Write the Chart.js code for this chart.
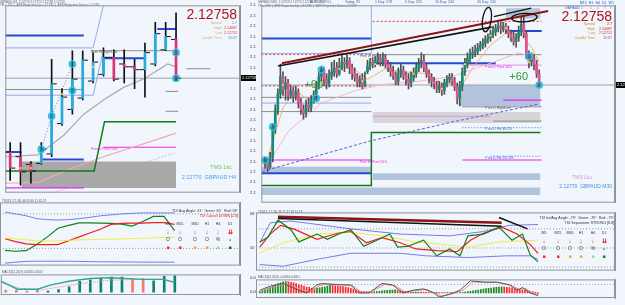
<!DOCTYPE html>
<html>
<head>
<meta charset="utf-8">
<title>GBPAUD H4 / M30</title>
<script src="https://cdn.jsdelivr.net/npm/chart.js@4.4.1/dist/chart.umd.min.js"></script>
<style>
  html, body { margin: 0; padding: 0; background: #f0f6fc; }
  #wrap { position: relative; width: 625px; height: 305px; overflow: hidden; background: #f0f6fc; }
  #wrap canvas { position: absolute; }
  #paneR { position: absolute; left: 256px; top: 0; width: 369px; height: 305px; overflow: hidden; }
</style>
</head>
<body>
<div id="wrap">
  <canvas id="priceL" width="256" height="198" style="left:0;top:0"></canvas>
  <canvas id="tdiL" width="256" height="72" style="left:0;top:198px"></canvas>
  <canvas id="histL" width="256" height="35" style="left:0;top:270px"></canvas>
  <div id="paneR">
    <canvas id="priceR" width="390" height="208" style="left:0;top:0"></canvas>
    <canvas id="tdiR" width="390" height="67" style="left:0;top:208px"></canvas>
    <canvas id="histR" width="390" height="30" style="left:0;top:275px"></canvas>
  </div>
</div>
<script>
// ─── Data: H4 pane (left) ──────────────────────────────
const openL  = [2.12134, 2.12094, 2.12030, 2.12038, 2.12118, 2.12374, 2.12494, 2.12590, 2.12734, 2.12790, 2.12934, 2.12878, 2.12854, 2.12830, 2.12878, 2.12998, 2.13086];
const highL  = [2.12214, 2.12214, 2.12054, 2.12214, 2.12918, 2.12670, 2.12990, 2.12990, 2.12974, 2.13014, 2.12998, 2.12998, 2.12918, 2.13054, 2.13230, 2.13230, 2.13310];
const lowL   = [2.11894, 2.11854, 2.11870, 2.12030, 2.12094, 2.12358, 2.12454, 2.12574, 2.12718, 2.12774, 2.12734, 2.12718, 2.12670, 2.12598, 2.12862, 2.12990, 2.12734];
const closeL = [2.11998, 2.11966, 2.11974, 2.12158, 2.12710, 2.12598, 2.12750, 2.12910, 2.12894, 2.12934, 2.12750, 2.12854, 2.12830, 2.12974, 2.13134, 2.13110, 2.12758];
const lastPrice = 2.12758;

const timeLabelsL = ['23 Jul 12:00', '23 Jul 20:00', '24 Jul 04:00', '24 Jul 12:00', '24 Jul 20:00', '27 Jul 04:00', '27 Jul 12:00', '27 Jul 20:00', '28 Jul 04:00'];
const tickBarsL   = [-0.45, 1, 3, 5, 7, 9, 11, 13, 15];

// levels: [fromBar, toBar, price]
const blueLevelsL    = [[-0.5, 7.1, 2.13118], [9, 13, 2.12926], [14.2, 16, 2.13174], [3.1, 7.1, 2.12070], [-0.5, 1.1, 2.12134]];
const grayLevelsL    = [[-0.5, 7.1, 2.12662], [7.8, 16, 2.12990], [17, 19.3, 2.12838], [15, 16.2, 2.12646], [15, 16.2, 2.12478]];
const magentaLevelsL = [[9, 16, 2.12174], [-0.5, 7.1, 2.11830]];
const boxesL         = [[1.1, 16, 2.12054, 2.11830]];
// polylines: [bar, price]
const atrUpL    = [[-0.5, 2.13014], [8, 2.13014], [9, 2.13374]];
const atrDnL    = [[-0.5, 2.12614], [8, 2.12614], [9, 2.12990]];
const pivotL    = [[-0.5, 2.11974], [8.1, 2.11974], [9.1, 2.12390], [16, 2.12390]];
const slowMaL   = [[-0.5, 2.11870], [2.7, 2.11878], [5.8, 2.11990], [9, 2.12094], [12.7, 2.12198], [16, 2.12294]];
const fastMaL   = [[-0.5, 2.12094], [2.7, 2.12110], [4, 2.12198], [5.2, 2.12278], [7.1, 2.12454], [9, 2.12574], [10.9, 2.12678], [13, 2.12758], [15.2, 2.12878], [16, 2.12854]];
const trendDotL = [[4.2, 2.11790], [16, 2.12130]];
const stopL     = [[3, 2.12158], [4, 2.12438], [5, 2.12654], [6, 2.12878]];
const circlesL  = [[3, 2.12158], [4, 2.12438], [6, 2.12654], [6, 2.12878], [16, 2.12974], [16, 2.12758]];
const fractalsL = [[1, 2.11998], [2, 2.11998], [5, 2.12622], [8, 2.12854]];

// TDI (H4), one value per bar
const tdiGreenL = [49, 48.5, 48.8, 52, 56, 60.5, 62, 63.3, 63.3, 63.2, 63, 62.7, 61.6, 64, 66.7, 66.7, 59.3];
const tdiRedL   = [55, 53.5, 52.3, 52, 52, 52, 54, 56, 58, 60, 62.5, 63, 63.2, 63.2, 63.4, 63.4, 62.5];
const tdiMidL   = [55.5, 55, 54.5, 54, 53.8, 54, 54.2, 54.4, 54.6, 54.7, 54.8, 54.9, 55.1, 55.3, 55.5, 55.7, 55.8];
const tdiUpL    = [69, 68, 67, 65.5, 65, 64.8, 65, 65.5, 66.2, 67, 67.5, 68, 68.3, 68.5, 68.5, 68.5, 68.5];
const tdiDnL    = [42.3, 42.8, 43.2, 43.3, 43.3, 43.3, 43.3, 43.2, 43.1, 43, 43, 42.9, 42.9, 42.8, 42.8, 42.8, 42.8];
const tdiLevelsL = [68, 50];

// histogram (H4), in 0.0001 units
const histL    = [2.4, 2.4, 1.4, 3.4, 1.5, 3.4, 6.7, 13.4, 15, 17.4, 18.4, 18.4, 16.7, 16.7, 14, 19.4, 20];
const histUpL  = [0, 0, 0, 0, 1, 1, 1, 1, 1, 1, 1, 1, 0, 0, 1, 1, 1];
const histLineL   = [[-0.5, 13.7], [1.1, 3.7], [3, 3.7], [4.2, 8.7], [6.1, 13.7], [8, 16.7], [9.9, 17.7], [13, 15.7], [14.9, 15.7], [16, 11.7]];
const histSignalL = [[-0.5, 11.7], [1.4, 4.7], [3.3, 2.7], [5.2, 6.7], [7.1, 10.7], [9.9, 14.7], [13, 15.7], [15.1, 15.7], [16, 12.7]];

// ─── Data: M30 pane (right) ────────────────────────────
const openR = [
  2.12086, 2.12126, 2.12070, 2.12150, 2.12406, 2.12550, 2.12686, 2.12830, 2.12726, 2.12774,
  2.12670, 2.12710, 2.12662, 2.12694, 2.12614, 2.12550, 2.12518, 2.12590, 2.12566, 2.12630,
  2.12662, 2.12750, 2.12830, 2.12886, 2.12806, 2.12774, 2.12838, 2.12870, 2.12902, 2.12854,
  2.12918, 2.12950, 2.12934, 2.12966, 2.12902, 2.12854, 2.12822, 2.12774, 2.12806, 2.12758,
  2.12870, 2.12918, 2.12950, 2.12934, 2.12966, 2.12990, 2.12950, 2.12982, 2.12934, 2.12902,
  2.12870, 2.12838, 2.12790, 2.12854, 2.12886, 2.12838, 2.12806, 2.12774, 2.12822, 2.12854,
  2.12902, 2.12934, 2.12966, 2.12902, 2.12854, 2.12822, 2.12790, 2.12758, 2.12726, 2.12750,
  2.12710, 2.12774, 2.12806, 2.12822, 2.12790, 2.12742, 2.12646, 2.12750, 2.12870, 2.12934,
  2.12982, 2.13014, 2.13030, 2.13046, 2.13070, 2.13094, 2.13110, 2.13142, 2.13158, 2.13190,
  2.13206, 2.13238, 2.13254, 2.13230, 2.13254, 2.13222, 2.13190, 2.13158, 2.13126, 2.13158,
  2.13206, 2.13270, 2.13190, 2.13014, 2.12950, 2.12982, 2.12934, 2.12854];
const highR = [
  2.12150, 2.12142, 2.12190, 2.12430, 2.12590, 2.12726, 2.12934, 2.12870, 2.12830, 2.12806,
  2.12758, 2.12742, 2.12750, 2.12726, 2.12646, 2.12590, 2.12630, 2.12646, 2.12670, 2.12710,
  2.12790, 2.12870, 2.12918, 2.12910, 2.12854, 2.12886, 2.12950, 2.12966, 2.12950, 2.12982,
  2.13014, 2.12990, 2.13014, 2.12990, 2.12934, 2.12902, 2.12854, 2.12838, 2.12854, 2.12870,
  2.12966, 2.12982, 2.12990, 2.12998, 2.13030, 2.13014, 2.13030, 2.13014, 2.12966, 2.12950,
  2.12918, 2.12870, 2.12902, 2.12934, 2.12918, 2.12870, 2.12854, 2.12870, 2.12902, 2.12950,
  2.12982, 2.13030, 2.13014, 2.12934, 2.12886, 2.12854, 2.12822, 2.12790, 2.12790, 2.12774,
  2.12806, 2.12838, 2.12854, 2.12854, 2.12822, 2.12774, 2.12790, 2.12902, 2.12982, 2.13030,
  2.13062, 2.13078, 2.13094, 2.13110, 2.13126, 2.13150, 2.13174, 2.13190, 2.13222, 2.13254,
  2.13270, 2.13286, 2.13286, 2.13286, 2.13278, 2.13254, 2.13222, 2.13206, 2.13190, 2.13254,
  2.13334, 2.13350, 2.13222, 2.13046, 2.13030, 2.13014, 2.12966, 2.12886];
const lowR = [
  2.12054, 2.12030, 2.12054, 2.12110, 2.12350, 2.12510, 2.12646, 2.12670, 2.12630, 2.12630,
  2.12646, 2.12614, 2.12630, 2.12566, 2.12510, 2.12470, 2.12486, 2.12534, 2.12534, 2.12606,
  2.12630, 2.12726, 2.12790, 2.12750, 2.12726, 2.12742, 2.12806, 2.12830, 2.12822, 2.12838,
  2.12886, 2.12870, 2.12902, 2.12854, 2.12806, 2.12790, 2.12742, 2.12742, 2.12726, 2.12742,
  2.12854, 2.12886, 2.12902, 2.12910, 2.12934, 2.12918, 2.12918, 2.12902, 2.12870, 2.12830,
  2.12806, 2.12758, 2.12758, 2.12822, 2.12806, 2.12758, 2.12726, 2.12742, 2.12790, 2.12822,
  2.12870, 2.12902, 2.12870, 2.12822, 2.12774, 2.12742, 2.12726, 2.12694, 2.12694, 2.12670,
  2.12678, 2.12742, 2.12774, 2.12758, 2.12710, 2.12598, 2.12582, 2.12710, 2.12838, 2.12902,
  2.12950, 2.12982, 2.12998, 2.13014, 2.13046, 2.13062, 2.13078, 2.13110, 2.13126, 2.13158,
  2.13174, 2.13206, 2.13190, 2.13206, 2.13190, 2.13158, 2.13126, 2.13094, 2.13078, 2.13126,
  2.13174, 2.13158, 2.12982, 2.12902, 2.12918, 2.12886, 2.12822, 2.12742];
const closeR = [
  2.12126, 2.12070, 2.12150, 2.12406, 2.12550, 2.12686, 2.12830, 2.12726, 2.12774, 2.12670,
  2.12710, 2.12662, 2.12694, 2.12614, 2.12550, 2.12518, 2.12590, 2.12566, 2.12630, 2.12662,
  2.12750, 2.12830, 2.12886, 2.12806, 2.12774, 2.12838, 2.12870, 2.12902, 2.12854, 2.12918,
  2.12950, 2.12934, 2.12966, 2.12902, 2.12854, 2.12822, 2.12774, 2.12806, 2.12758, 2.12790,
  2.12918, 2.12950, 2.12934, 2.12966, 2.12990, 2.12950, 2.12982, 2.12934, 2.12902, 2.12870,
  2.12838, 2.12790, 2.12854, 2.12886, 2.12838, 2.12806, 2.12774, 2.12822, 2.12854, 2.12902,
  2.12934, 2.12966, 2.12902, 2.12854, 2.12822, 2.12790, 2.12758, 2.12726, 2.12750, 2.12710,
  2.12774, 2.12806, 2.12822, 2.12790, 2.12742, 2.12646, 2.12750, 2.12870, 2.12934, 2.12982,
  2.13014, 2.13030, 2.13046, 2.13070, 2.13094, 2.13110, 2.13142, 2.13158, 2.13190, 2.13206,
  2.13238, 2.13254, 2.13230, 2.13254, 2.13222, 2.13190, 2.13158, 2.13126, 2.13158, 2.13206,
  2.13270, 2.13190, 2.13014, 2.12950, 2.12982, 2.12934, 2.12854, 2.12758];

const timeLabelsR = ['24 Jul 04:00', '24 Jul 08:00', '24 Jul 12:00', '24 Jul 16:00', '24 Jul 20:00', '27 Jul 00:00', '27 Jul 04:00',
                     '27 Jul 08:00', '27 Jul 12:00', '27 Jul 16:00', '27 Jul 20:00', '28 Jul 00:00', '28 Jul 04:00'];
const tickBarsR   = [0, 8, 16, 24, 32, 40, 48, 56, 64, 72, 80, 88, 96];

const blueLevelsR    = [[-1.5, 41.5, 2.13150], [42, 90, 2.12942], [94, 108, 2.13214], [-1.5, 41.5, 2.12014]];
const grayLevelsR    = [[-1.5, 41.5, 2.12654], [-1.5, 41.5, 2.12534], [42, 108, 2.13014], [77, 108, 2.12574], [89, 108, 2.12454]];
const redDotLevelsR  = [[42, 108, 2.13294], [-1.5, 41.5, 2.13014], [-1.5, 41.5, 2.12750]];
const magentaLevelsR = [[-1.5, 41.5, 2.12126], [77, 108, 2.12126], [93, 108, 2.12630]];
const pinkLevelsR    = [[42, 88, 2.12494], [77, 108, 2.12926]];
const blueDotLevelsR = [[88, 108, 2.12158], [77, 108, 2.12398]];
const boxesR     = [[76, 107.5, 2.12758, 2.12582], [94, 107.5, 2.13406, 2.13318], [-1.5, 41.5, 2.12070, 2.12014],
                    [42, 107.5, 2.12014, 2.11958], [-1.5, 107.5, 2.11894, 2.11830]];
const grayBoxesR = [[42, 107.5, 2.12530, 2.12438]];
const pivotR     = [[-1.5, 2.11910], [41.5, 2.11910], [41.5, 2.12358], [107.5, 2.12358]];
const atrUpR     = [[-1.5, 2.13024], [41.5, 2.13024], [41.5, 2.13430]];
const atrDnR     = [[-1.5, 2.12606], [41.5, 2.12606]];
const atrTrendR  = [[-1, 2.12030], [41, 2.12286], [73, 2.12446], [107, 2.12598]];
const fastMaR    = [[0, 2.12070], [7, 2.12566], [12, 2.12710], [17, 2.12630], [22, 2.12790], [30, 2.12910], [35, 2.12886], [40, 2.12806],
                    [47, 2.12894], [54, 2.12870], [63, 2.12854], [69, 2.12774], [76, 2.12726], [81, 2.12902], [88, 2.13094],
                    [95, 2.13214], [100, 2.13174], [104, 2.13078], [107, 2.12950]];
const slowMaR    = [[0, 2.12046], [9, 2.12366], [22, 2.12606], [35, 2.12710], [47, 2.12766], [60, 2.12790], [73, 2.12830],
                    [86, 2.12926], [99, 2.13030], [107, 2.12974]];
const redTrendR    = [[6.6, 2.12942], [110.5, 2.13382]];
const blackTrendR  = [[5.1, 2.12918], [88.5, 2.13246]];
const blackTrend2R = [[89.3, 2.13334], [103.9, 2.13406]];
// ellipses: [bar, price, radiusBars, radiusPrice, tilt]
const ellipsesR  = [[86.6, 2.13310, 1.7, 0.00104, 0.15], [101.2, 2.13326, 5, 0.00036, -0.05]];
const circlesR   = [[0, 2.12126], [3, 2.12406], [20, 2.12646], [22, 2.12886], [103, 2.12998], [107, 2.12758]];
const fractalsR  = [[7, 2.12758], [29, 2.12894], [38, 2.12790], [43, 2.12934], [58, 2.12854], [69, 2.12726], [78, 2.12934],
                    [88, 2.13174], [94, 2.13238], [103, 2.12950]];

// TDI (M30), sampled [bar, value]
const tdiUpR    = [[0, 54.9], [4, 73.7], [12, 75.4], [35, 68], [54, 63.1], [73, 61.4], [86, 65.5], [96, 71.3], [107, 72.1]];
const tdiDnR    = [[0, 34.4], [9, 32.8], [22, 39.3], [35, 45], [54, 45], [64, 42.6], [80, 41], [95, 42.6], [104, 42.6], [107, 39.3]];
const tdiMidR   = [[0, 45], [9, 54.9], [22, 63.1], [35, 64.7], [47, 61.4], [60, 55.7], [80, 50.8], [92, 55.7], [107, 57.3]];
const tdiRedR   = [[0, 50.8], [4, 63.1], [8, 71.3], [13, 68], [22, 58.2], [30, 63.9], [35, 65.5], [41, 54.9], [47, 59.8], [54, 54.9],
                   [60, 49.1], [68, 47.5], [76, 46.7], [81, 57.3], [86, 63.9], [93, 69.6], [99, 63.1], [104, 53.2], [107, 45]];
const tdiGreenR = [[0, 55.7], [3, 59.8], [7, 76.2], [12, 67.2], [15, 55.7], [22, 63.1], [26, 58.2], [31, 63.9], [35, 67.2], [40, 51.6],
                   [45, 57.3], [50, 63.1], [53, 50.8], [57, 51.6], [63, 57.3], [68, 42.6], [73, 49.1], [77, 42.6], [80, 61.4],
                   [86, 63.1], [92, 69.6], [97, 57.3], [101, 63.1], [104, 43.4], [107, 36.9]];
const tdiLevelsR = [68, 50, 32];
const tdiRedTrendR    = [[7, 79.5], [93, 73.7]];
const tdiBlackTrendR  = [[7, 77.8], [93, 70.5]];
const tdiBlackTrend2R = [[92, 78.7], [103, 68]];

// histogram (M30), in 0.0001 units
const histR = [
  1.5, 2.5, 3.5, 5, 6.5, 8, 9.5, 11, 12, 13, 13.5,
  13, 12.5, 12, 11, 10, 9, 8, 7, 6.5, 5.5, 5,
  5.5, 6, 6.5, 7, 8, 9,
  8.8, 8.5, 8.2, 7.8, 7.4, 7, 6.4, 5.5, 4.5, 3.5, 2.5,
  2, 1.6, 1.3, 1, 0.8,
  1.2, 1.6, 2, 2.4, 2.8, 3.1, 3.3, 3.5, 3.6,
  3.2, 2.6, 2, 1.5, 1, 0.7,
  0.8, 1, 1.1, 0.9, 0.7, 0.6, 0.5, 0.4, 0.5, 0.6, 0.5, 0.4, 0.3, 0.35, 0.4, 0.3, 0.25, 0.2, 0.3, 0.5,
  1, 1.5, 2, 2.5, 3, 3.5, 4, 4.5, 5, 5.4, 5.8, 6.2, 6.6, 7, 7.3,
  7, 6.6, 6.2, 5.7, 5.2, 4.7, 4.2, 3.6, 3, 2.4, 1.8, 1.2, 0.6,
  -1];
const histLineR   = [[0, 3.2], [4, 8], [9, 11.2], [15, 3.2], [18, 0], [22, 9.6], [24, 11.2], [30, 9.6], [35, 9.6], [38, 0], [42, 0],
                     [47, 11.2], [51, 9.6], [55, 0], [59, 3.2], [63, 4.8], [67, 0], [69, -4.8], [73, -1.6], [77, 3.2], [81, 14.4],
                     [86, 12.8], [91, 12.8], [96, 9.6], [99, 3.2], [101, 6.4], [104, 0], [107, -3.2]];
const histSignalR = [[0, 2], [5, 7], [10, 10.5], [16, 4], [19, 1], [23, 8.5], [26, 10.5], [31, 10], [36, 8], [39, 1], [43, 1.5],
                     [48, 10], [52, 8.5], [56, 1], [60, 3], [64, 4], [68, -1], [70, -4], [74, -1], [78, 3], [82, 13],
                     [87, 12.5], [92, 12.2], [97, 8.5], [100, 4], [102, 5.5], [105, 0], [107, -2]];

const tfLabels = ['M5', 'M15', 'M30', 'H1', 'H4', 'D1'];

// ─── Shared config ─────────────────────────────────────
const FONT = "'Liberation Sans', Arial, sans-serif";
const C = {
    frame:    '#8d949c',
    axisText: '#3a3a3a',
    wickL:    '#111111',
    upL:      '#2aa8e0',
    downL:    '#e0307a',
    wickR:    '#505050',
    upR:      '#178a78',
    downR:    '#e4508e',
    blue:     '#2448d8',
    gray:     '#8c8c8c',
    magenta:  '#f020f0',
    lavender: '#9aa6f0',
    green:    '#17771a',
    priceRed: '#b3141c',
    squares:  ['#ff2020', '#ff2020', '#ffa020', '#ffa020', '#90e090', '#108010']
};
const xL = { min: -0.47, max: 22.17 };
const xR = { min: -1.46, max: 136.6 };

Chart.defaults.font.family = FONT;
Chart.defaults.font.size = 4;
Chart.defaults.color = C.axisText;
Chart.defaults.animation = false;
Chart.defaults.responsive = false;
Chart.defaults.events = [];
Chart.defaults.plugins.legend.display = false;
Chart.defaults.plugins.tooltip.enabled = false;

// ─── Dataset helpers ───────────────────────────────────
const seg = ([x0, x1, p], color, width = 1, dash = [], order = 8) => ({
    type: 'line', data: [{ x: x0, y: p }, { x: x1, y: p }], borderColor: color, borderWidth: width,
    borderDash: dash, pointRadius: 0, order, clip: 0
});
const path = (pts, color, width = 1, dash = [], order = 7) => ({
    type: 'line', data: pts.map(([x, y]) => ({ x, y })), borderColor: color, borderWidth: width,
    borderDash: dash, pointRadius: 0, tension: 0, order, clip: 0
});
const series = (vals, color, width = 1) => ({
    type: 'line', data: vals.map((v, i) => ({ x: i, y: v })), borderColor: color, borderWidth: width,
    pointRadius: 0, tension: 0, order: 5, clip: 0
});
const box = ([x0, x1, top, bottom], color) => ({
    type: 'line', data: [{ x: x0, y: top }, { x: x1, y: top }], borderWidth: 0, borderColor: 'rgba(0,0,0,0)',
    backgroundColor: color, fill: { value: bottom }, pointRadius: 0, order: 10, clip: 0
});
const marks = (pts, style, order = 1) => ({
    type: 'line', showLine: false, data: pts.map(([x, y]) => ({ x, y })), order, clip: 0, ...style
});
const candles = (o, h, l, c, st) => [
    { type: 'bar', data: h.map((v, i) => ({ x: i, y: [l[i], v] })), backgroundColor: st.wick,
      barThickness: st.wickW, grouped: false, order: 5 },
    { type: 'bar', data: o.map((v, i) => ({ x: i, y: [v, c[i]] })),
      backgroundColor: o.map((v, i) => c[i] >= v ? st.up : st.down),
      barThickness: st.bodyW, minBarLength: 1, grouped: false, order: 4 }
];
const circleStyle = { pointRadius: 3.2, pointBorderWidth: 1.3, pointBorderColor: '#22c8ec', pointBackgroundColor: 'rgba(15,110,140,0.55)' };
const fractalStyle = { pointRadius: 1.1, pointBorderWidth: 0, pointBackgroundColor: '#f2e21e' };

// ─── Axis helpers ──────────────────────────────────────
const hiddenX = r => ({ type: 'linear', min: r.min, max: r.max, offset: false, display: false });
const timeAxis = (r, bars, labels, height) => ({
    type: 'linear', min: r.min, max: r.max, offset: false,
    grid: { display: false }, border: { display: false },
    afterFit: s => { s.height = height; },
    afterBuildTicks: s => { s.ticks = bars.map(v => ({ value: v })); },
    ticks: { autoSkip: false, maxRotation: 0, minRotation: 0, align: 'start', padding: 1,
             font: { size: 4, family: FONT }, color: C.axisText, callback: (v, i) => labels[i] }
});
const rightAxis = (min, max, width, ticks = {}, build) => ({
    type: 'linear', position: 'right', min, max, beginAtZero: false,
    grid: { display: false },
    border: { display: true, color: C.frame },
    afterFit: s => { s.width = width; },
    afterBuildTicks: build,
    ticks: { font: { size: 4, family: FONT }, color: C.axisText, padding: 2, includeBounds: false, autoSkip: false, ...ticks }
});
const fixedTicks = vals => s => { s.ticks = vals.map(v => ({ value: v })); };

// ─── Drawing plugins ───────────────────────────────────
const frame = {
    id: 'frame',
    afterDraw(chart) {
        const { ctx, chartArea: a } = chart;
        ctx.save();
        ctx.strokeStyle = C.frame;
        ctx.lineWidth = 1;
        ctx.strokeRect(a.left + 0.5, a.top + 0.5, a.width - 1, a.height - 1);
        ctx.restore();
    }
};
function textLayer(items) {
    return {
        id: 'textLayer',
        afterDatasetsDraw(chart) {
            const { ctx, scales } = chart;
            ctx.save();
            items.forEach(t => {
                const px = t.px !== undefined ? t.px : scales.x.getPixelForValue(t.x);
                const py = t.py !== undefined ? t.py : scales.y.getPixelForValue(t.y);
                ctx.font = `${t.weight || 'normal'} ${t.size || 4}px ${FONT}`;
                ctx.fillStyle = t.color || '#333';
                ctx.textAlign = t.align || 'left';
                ctx.textBaseline = t.base || 'middle';
                ctx.fillText(t.text, px, py);
            });
            ctx.restore();
        }
    };
}
function ellipseLayer(list, color, width) {
    return {
        id: 'ellipseLayer',
        afterDatasetsDraw(chart) {
            const { ctx, scales: { x, y } } = chart;
            ctx.save();
            ctx.strokeStyle = color;
            ctx.lineWidth = width;
            list.forEach(([cx, cy, rx, ry, tilt]) => {
                const X = x.getPixelForValue(cx), Y = y.getPixelForValue(cy);
                const RX = Math.abs(x.getPixelForValue(cx + rx) - X);
                const RY = Math.abs(y.getPixelForValue(cy + ry) - Y);
                ctx.beginPath();
                ctx.ellipse(X, Y, RX, RY, tilt, 0, Math.PI * 2);
                ctx.stroke();
            });
            ctx.restore();
        }
    };
}
function priceTag(value) {
    return {
        id: 'priceTag',
        afterDraw(chart) {
            const { ctx, chartArea: a, scales: { y } } = chart;
            const py = Math.round(y.getPixelForValue(value));
            ctx.save();
            ctx.fillStyle = '#000';
            ctx.fillRect(a.right + 1, py - 3, 40, 6);
            ctx.fillStyle = '#fff';
            ctx.font = `4px ${FONT}`;
            ctx.textBaseline = 'middle';
            ctx.fillText(value.toFixed(5), a.right + 2, py);
            ctx.restore();
        }
    };
}
// TDI summary table (arrows, states, colour squares)
function tdiTable(xs, top, arrowsColor) {
    const out = [];
    tfLabels.forEach((tf, i) => {
        out.push({ px: xs[i], py: top, text: tf, size: 3.6, color: '#333', align: 'center' });
        out.push({ px: xs[i], py: top + 8, text: i === 5 ? '⇊' : '↓', size: 6, weight: 'bold', color: arrowsColor, align: 'center' });
        out.push({ px: xs[i], py: top + 16, text: i === 4 ? '%' : (i === 5 ? '●' : 'O'), size: i === 5 ? 3.5 : 5, color: '#444', align: 'center' });
        out.push({ px: xs[i], py: top + 24, text: '■', size: 5, color: C.squares[i], align: 'center' });
    });
    return out;
}

// ─── LEFT PANE: H4 price ───────────────────────────────
new Chart(document.getElementById('priceL'), {
    type: 'bar',
    data: { datasets: [
        ...boxesL.map(b => box(b, '#a9a9a9')),
        ...blueLevelsL.map(s => seg(s, C.blue, 2)),
        ...grayLevelsL.map(s => seg(s, C.gray, 1)),
        ...magentaLevelsL.map(s => seg(s, C.magenta, 1.2)),
        seg([xL.min, xL.max, lastPrice], '#a2a2a2', 1),
        path(atrUpL, C.lavender), path(atrDnL, C.lavender),
        path(pivotL, C.green, 1.5),
        path(slowMaL, '#f3a9b2', 1.2),
        path(fastMaL, '#ababab', 1.2),
        path(trendDotL, '#a0a0a0', 1, [1, 2]),
        path(stopL, '#7474ea', 1, [1, 2]),
        ...candles(openL, highL, lowL, closeL, { wick: C.wickL, up: C.upL, down: C.downL, wickW: 1, bodyW: 2 }),
        marks(openL.map((v, i) => [i - 0.3, v]), { pointStyle: 'line', pointRadius: 2, borderColor: C.wickL, borderWidth: 1 }, 3),
        marks(closeL.map((v, i) => [i + 0.3, v]), { pointStyle: 'line', pointRadius: 2, borderColor: C.wickL, borderWidth: 1 }, 3),
        marks(fractalsL, fractalStyle, 2),
        marks(circlesL, circleStyle, 1)
    ] },
    options: {
        layout: { padding: 0 },
        scales: {
            x: hiddenX(xL),
            y: rightAxis(2.11790, 2.13374, 16, { stepSize: 0.00088, callback: v => v.toFixed(5) })
        }
    },
    plugins: [frame, priceTag(lastPrice), textLayer([
        { px: 0, py: 2, text: 'GBPAUD,H4  2.12770 2.12770 2.12758 2.12758', size: 3, color: '#666' },
        { px: 0, py: 5.5, text: 'TR = 132  |  ATR Projection Up = 2.1335  |  ATR Projection Down = 2.1278', size: 3, color: '#666' },
        { x: 7.8, y: 2.12990, text: 'Prev W High/Low', size: 3.4, color: '#555', base: 'top' },
        { x: 7.8, y: 2.12174, text: 'Prev D Pivot 50%', size: 3.4, color: C.magenta, base: 'top' },
        { px: 237, py: 15, text: '2.12758', size: 14, color: C.priceRed, align: 'right' },
        { px: 222, py: 23, text: 'Spread', size: 3.6, color: '#d8b478', align: 'right' },
        { px: 237, py: 23, text: '2.7', size: 3.6, color: '#1aa0a0', align: 'right' },
        { px: 222, py: 28, text: 'High', size: 3.6, color: '#d8b478', align: 'right' },
        { px: 237, py: 28, text: '2.14087', size: 3.6, color: '#e03030', align: 'right' },
        { px: 222, py: 33, text: 'Low', size: 3.6, color: '#d8b478', align: 'right' },
        { px: 237, py: 33, text: '2.12712', size: 3.6, color: '#e03030', align: 'right' },
        { px: 222, py: 38, text: 'Candle Time', size: 3.6, color: '#d8b478', align: 'right' },
        { px: 237, py: 38, text: '11:57', size: 3.6, color: '#1aa0a0', align: 'right' },
        { px: 232, py: 167, text: 'TMS Lkc', size: 5.5, color: '#66cc66', align: 'right' },
        { px: 236, py: 177, text: '2.12770  GBPAUD H4', size: 5.5, color: '#4aa0f0', align: 'right' }
    ])]
});

// ─── LEFT PANE: H4 TDI ─────────────────────────────────
new Chart(document.getElementById('tdiL'), {
    type: 'line',
    data: { datasets: [
        ...tdiLevelsL.map(v => seg([xL.min, xL.max, v], '#9a9a9a', 1, [1, 2])),
        series(tdiUpL, '#7878f0'), series(tdiDnL, '#7878f0'),
        series(tdiMidL, '#eeee44'),
        series(tdiRedL, '#f01c1c', 1.2),
        series(tdiGreenL, '#12801a', 1.2)
    ] },
    options: {
        layout: { padding: 0 },
        scales: { x: hiddenX(xL), y: rightAxis(41, 74, 16, {}, fixedTicks(tdiLevelsL)) }
    },
    plugins: [frame, textLayer([
        { px: 2, py: 3, text: 'TDI(13,2,7,34) 44.62 60.11 62.57', size: 3, color: '#555' },
        { px: 238, py: 13, text: 'TDI Avg Angle: 41°  Green: 65°  Red: 58°', size: 3.6, color: '#333', align: 'right' },
        { px: 238, py: 17.5, text: 'TDI Cancel DOWN [2.8]', size: 3.6, color: '#e01010', align: 'right' },
        ...tdiTable([168, 180, 195, 207, 218, 230], 26, '#e81818')
    ])]
});

// ─── LEFT PANE: H4 histogram ───────────────────────────
new Chart(document.getElementById('histL'), {
    type: 'bar',
    data: { datasets: [
        { type: 'bar', data: histL.map((v, i) => ({ x: i, y: v })),
          backgroundColor: histUpL.map(u => u ? '#14806f' : '#f07c6c'), barThickness: 2, grouped: false, order: 4 },
        path(histLineL, '#2aa898', 1.4, [], 2),
        path(histSignalL, '#f08a8a', 1, [1, 1], 3)
    ] },
    options: {
        layout: { padding: 0 },
        scales: {
            x: timeAxis(xL, tickBarsL, timeLabelsL, 10),
            y: rightAxis(-3.3, 21.7, 16, { callback: v => (v / 10000).toFixed(4) }, fixedTicks([0, 18]))
        }
    },
    plugins: [frame, textLayer([
        { px: 2, py: 2.5, text: 'MACD(12,26,9) 0.0020 0.0017', size: 3, color: '#555' }
    ])]
});

// ─── RIGHT PANE: M30 price ─────────────────────────────
new Chart(document.getElementById('priceR'), {
    type: 'bar',
    data: { datasets: [
        ...boxesR.map(b => box(b, '#b2c4dc')),
        ...grayBoxesR.map(b => box(b, '#d6d6d6')),
        ...blueLevelsR.map(s => seg(s, C.blue, 2)),
        ...grayLevelsR.map(s => seg(s, C.gray, 1)),
        ...redDotLevelsR.map(s => seg(s, '#e04848', 1, [2, 2])),
        ...magentaLevelsR.map(s => seg(s, C.magenta, 1.2)),
        ...pinkLevelsR.map(s => seg(s, '#e890e8', 1)),
        ...blueDotLevelsR.map(s => seg(s, '#4466e0', 1, [1, 2])),
        seg([xR.min, xR.max, lastPrice], '#a2a2a2', 1),
        path(pivotR, C.green, 1.5),
        path(atrUpR, C.lavender), path(atrDnR, C.lavender),
        path(atrTrendR, '#5a5ae6', 1, [3, 2]),
        path(slowMaR, '#f5b8c4', 1),
        path(fastMaR, '#f4b070', 1),
        ...candles(openR, highR, lowR, closeR, { wick: C.wickR, up: C.upR, down: C.downR, wickW: 1, bodyW: 2 }),
        path(redTrendR, '#8e1414', 2, [], 3),
        path(blackTrendR, '#111', 1.6, [], 3),
        path(blackTrend2R, '#111', 1.4, [], 3),
        marks(fractalsR, fractalStyle, 2),
        marks(circlesR, circleStyle, 1)
    ] },
    options: {
        layout: { padding: 0 },
        scales: {
            x: hiddenX(xR),
            y: rightAxis(2.11766, 2.13430, 31, { stepSize: 0.00086, callback: v => v.toFixed(5) })
        }
    },
    plugins: [frame, priceTag(lastPrice), ellipseLayer(ellipsesR, '#111', 1.3), textLayer([
        { px: 2, py: 2, text: 'GBPAUD,M30  2.12758 2.12770 2.12740 2.12758', size: 3, color: '#666' },
        { px: 2, py: 6, text: 'TR = 131  |  ATR Projection Up = 2.1335  |  ATR Projection Down = 2.1278', size: 3, color: '#666' },
        { px: 54, py: 2.5, text: 'ADR: 65.2% |', size: 3.5, color: '#4060b0' },
        { px: 89, py: 2.5, text: 'Today: 95', size: 3.5, color: '#4060b0' },
        { px: 119, py: 2.5, text: '1 Day: 178', size: 3.5, color: '#4060b0' },
        { px: 149, py: 2.5, text: '5 Day: 252', size: 3.5, color: '#4060b0' },
        { px: 179, py: 2.5, text: '10 Day: 244', size: 3.5, color: '#4060b0' },
        { px: 221, py: 2.5, text: '20 Day: 245', size: 3.5, color: '#4060b0' },
        { x: 37, y: 2.13014, text: 'Prev W High/Low', size: 3.4, color: '#555', base: 'top' },
        { x: 37, y: 2.12126, text: 'Prev W Pivot 50%', size: 3.4, color: C.magenta, base: 'top' },
        { x: 86, y: 2.12926, text: 'Prev D Pivot 50%', size: 3.4, color: C.magenta, base: 'top' },
        { x: 86, y: 2.12574, text: 'Prev D High/Low', size: 3.4, color: '#555', base: 'top' },
        { x: 86, y: 2.12398, text: 'Prev D Fib 38.2%', size: 3.4, color: '#4060e0', base: 'top' },
        { x: 86, y: 2.12126, text: 'Prev D Fib 161.8%', size: 3.4, color: '#4060e0', base: 'bottom' },
        { x: 19, y: 2.12758, text: '+60', size: 11, color: '#3a963a', align: 'center' },
        { x: 99, y: 2.12830, text: '+60', size: 11, color: '#3a963a', align: 'center' },
        { px: 358, py: 2.5, text: 'M15  H1  H4  D1  W1', size: 3.6, color: '#3050d0', align: 'right' },
        { px: 309, py: 7.5, text: 'GBPAUD', size: 3.6, color: '#3050d0' },
        { px: 326, py: 7.5, text: '↓', size: 5, weight: 'bold', color: '#e81818', align: 'center' },
        { px: 335, py: 7.5, text: '↓', size: 5, weight: 'bold', color: '#e81818', align: 'center' },
        { px: 342, py: 7.5, text: '↓', size: 5, weight: 'bold', color: '#e81818', align: 'center' },
        { px: 349, py: 7.5, text: '↑', size: 5, weight: 'bold', color: '#2040e0', align: 'center' },
        { px: 355, py: 7.5, text: '↑', size: 5, weight: 'bold', color: '#2040e0', align: 'center' },
        { px: 356, py: 17, text: '2.12758', size: 14, color: C.priceRed, align: 'right' },
        { px: 339, py: 24, text: 'Spread', size: 3.6, color: '#c8963c', align: 'right' },
        { px: 356, py: 24, text: '2.7', size: 3.6, color: '#b01818', align: 'right' },
        { px: 339, py: 28.5, text: 'High', size: 3.6, color: '#c8963c', align: 'right' },
        { px: 356, py: 28.5, text: '2.14087', size: 3.6, color: '#d02020', align: 'right' },
        { px: 339, py: 33, text: 'Low', size: 3.6, color: '#c8963c', align: 'right' },
        { px: 356, py: 33, text: '2.12712', size: 3.6, color: '#d02020', align: 'right' },
        { px: 339, py: 38, text: 'Candle Time', size: 3.6, color: '#c8963c', align: 'right' },
        { px: 356, py: 38, text: '11:57', size: 3.6, color: '#8a3a8a', align: 'right' },
        { px: 336, py: 178, text: 'TMS Lkc', size: 5, color: '#d890d8', align: 'right' },
        { px: 356, py: 187, text: '2.12770  GBPAUD M30', size: 5, color: '#4a8ee0', align: 'right' }
    ])]
});

// ─── RIGHT PANE: M30 TDI ───────────────────────────────
new Chart(document.getElementById('tdiR'), {
    type: 'line',
    data: { datasets: [
        ...tdiLevelsR.map(v => seg([xR.min, xR.max, v], '#9a9a9a', 1, [1, 2])),
        path(tdiUpR, '#7878f0', 1, [], 5), path(tdiDnR, '#7878f0', 1, [], 5),
        path(tdiMidR, '#eeee44', 1, [], 5),
        path(tdiRedR, '#f01c1c', 1.2, [], 4),
        path(tdiGreenR, '#12801a', 1.2, [], 3),
        path(tdiRedTrendR, '#8e1414', 2.5, [], 2),
        path(tdiBlackTrendR, '#111', 1.5, [], 1),
        path(tdiBlackTrend2R, '#111', 1.5, [], 1)
    ] },
    options: {
        layout: { padding: 0 },
        scales: { x: hiddenX(xR), y: rightAxis(28.7, 83.5, 31, {}, fixedTicks(tdiLevelsR)) }
    },
    plugins: [frame, textLayer([
        { px: 2, py: 4, text: 'TDI(13,2,7,34) 36.17 47.69 51.18', size: 3, color: '#555' },
        { px: 358, py: 10, text: 'TDI ho/Avg Angle: -79°  Green: -79°  Red: -79°', size: 3.6, color: '#333', align: 'right' },
        { px: 358, py: 15, text: 'TDI Separation: STRONG [8.8]', size: 3.6, color: '#333', align: 'right' },
        ...tdiTable([288, 302, 314, 325, 337, 348], 25, '#e81818')
    ])]
});

// ─── RIGHT PANE: M30 histogram ─────────────────────────
new Chart(document.getElementById('histR'), {
    type: 'bar',
    data: { datasets: [
        { type: 'bar', data: histR.map((v, i) => ({ x: i, y: v })),
          backgroundColor: histR.map((v, i) => (i > 0 && v < histR[i - 1]) ? '#ff2a2a' : '#1a8a1a'),
          barThickness: 1, grouped: false, order: 4 },
        seg([xR.min, xR.max, 10], '#a8a8a8', 1, [1, 2]),
        path(histLineR, '#555', 1, [], 2),
        path(histSignalR, '#f08a8a', 1, [], 3)
    ] },
    options: {
        layout: { padding: 0 },
        scales: {
            x: timeAxis(xR, tickBarsR, timeLabelsR, 7),
            y: rightAxis(-6, 16, 31, { callback: v => (v / 10000).toFixed(4) }, fixedTicks([10, 0]))
        }
    },
    plugins: [frame, textLayer([
        { px: 2, py: 2.5, text: 'MACD(12,26,9) -0.0004 0.0001', size: 3, color: '#555' }
    ])]
});
</script>
</body>
</html>
